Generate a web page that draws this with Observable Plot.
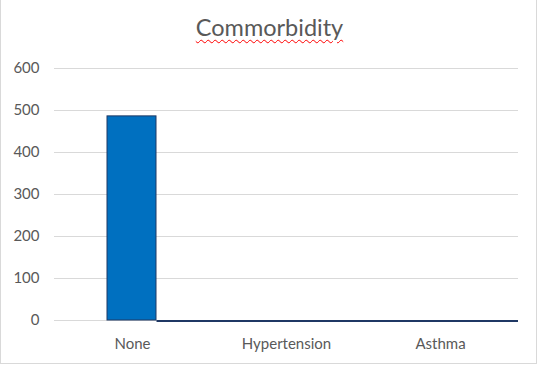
<!DOCTYPE html>
<html>
<head>
<meta charset="utf-8">
<script src="https://cdn.jsdelivr.net/npm/d3@7"></script>
<script src="https://cdn.jsdelivr.net/npm/@observablehq/plot@0.6"></script>
<style>
  html, body { margin: 0; padding: 0; background: #fff; }
  #wrap { position: relative; width: 539px; height: 367px; overflow: hidden; }
  #frame { position: absolute; left: 0; top: 0; width: 537px; height: 364px;
           border-left: 1px solid #d9d9d9; border-right: 1px solid #d9d9d9; border-bottom: 1px solid #d9d9d9; box-sizing: border-box; pointer-events: none; }
  #title { position: absolute; left: 0; width: 539px; top: 13px; text-align: center;
           font-family: Lato, "Open Sans", sans-serif; font-size: 23.5px; color: #595959;
           text-decoration: underline wavy #ff0000; text-decoration-thickness: 1px; text-underline-offset: 3px; }
  #chart { position: absolute; left: 0; top: 0; }
</style>
</head>
<body>
<div id="wrap">
  <div id="chart"></div>
  <div id="title">Commorbidity</div>
  <div id="frame"></div>
</div>
<script>
const categories = ["None", "Hypertension", "Asthma"];
const counts = [486, 0, 0];
const yTicks = [0, 100, 200, 300, 400, 500, 600];

const data = categories.map((c, i) => ({category: c, count: counts[i]}));
const fillBlue = "#0070C0";
const navy = "#1F3864";
const barInset = 52;

// dark baseline segment from the right edge of the first bar to the end of the x range
function darkBaseline(index, scales, values, dims) {
  const x = scales.x, y = scales.y;
  const x0 = x(categories[0]) + x.bandwidth() - barInset - 0.5;
  const x1 = dims.width - dims.marginRight;
  const yy = y(0) + 1;
  return d3.create("svg:line")
    .attr("x1", x0).attr("x2", x1)
    .attr("y1", yy).attr("y2", yy)
    .attr("stroke", navy).attr("stroke-width", 2).node();
}

const chart = Plot.plot({
  width: 539,
  height: 367,
  marginTop: 68,
  marginBottom: 47,
  marginLeft: 54,
  marginRight: 21,
  style: {fontFamily: "Lato, 'Open Sans', sans-serif", fontSize: "15px", color: "#595959", background: "transparent"},
  x: {domain: categories, padding: 0, label: null, tickSize: 0},
  y: {domain: [0, 600], ticks: yTicks, label: null, tickSize: 0},
  marks: [
    Plot.gridY(yTicks, {stroke: "#d9d9d9", strokeOpacity: 1}),
    Plot.barY(data.filter(d => d.count > 0), {x: "category", y: "count", fill: fillBlue, stroke: navy, strokeWidth: 1, insetLeft: barInset, insetRight: barInset + 1}),
    Plot.axisY(yTicks, {tickSize: 0, tickPadding: 15, fontSize: 15, fill: "#595959", label: null}),
    Plot.axisX({tickSize: 0, tickPadding: 18, fontSize: 15, fill: "#595959", label: null}),
    darkBaseline
  ]
});
document.getElementById("chart").appendChild(chart);
</script>
</body>
</html>
